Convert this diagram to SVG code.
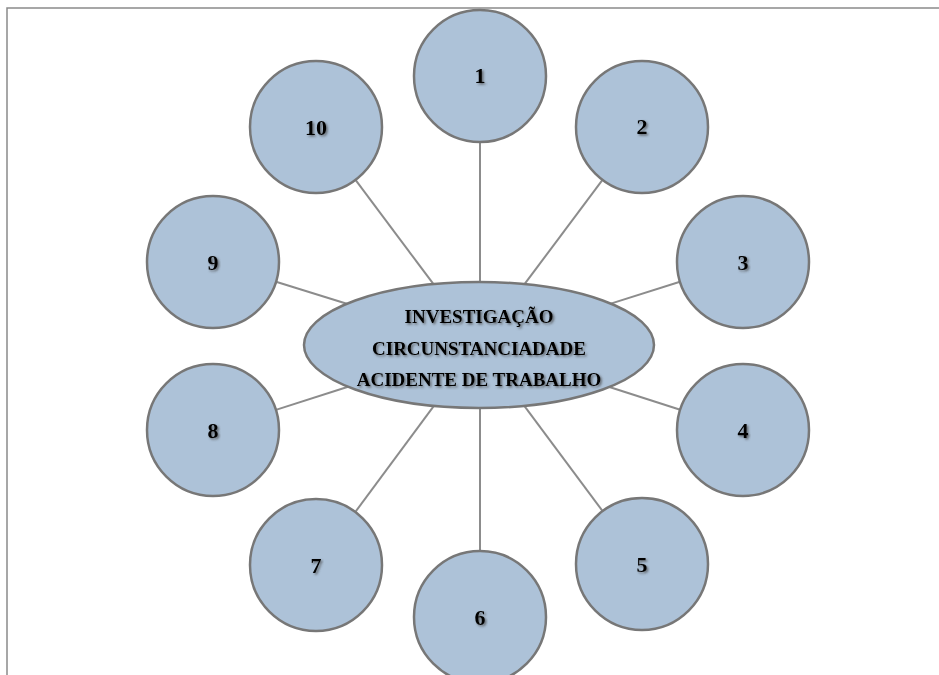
<svg xmlns="http://www.w3.org/2000/svg" width="939" height="675" viewBox="0 0 939 675">
  <defs>
    <filter id="txtShadow" x="-20%" y="-20%" width="140%" height="140%">
      <feDropShadow dx="1.5" dy="1.5" stdDeviation="0.9" flood-color="#444" flood-opacity="0.75"/>
    </filter>
  </defs>
  <style>
    .frame { stroke: #8a8a8a; stroke-width: 1.5; fill: none; }
    .link { stroke: #8c8c8c; stroke-width: 2; fill: none; }
    .bubble { fill: #adc2d8; stroke: #777777; stroke-width: 2.5; }
    .label { font-family: "Liberation Serif", "Times New Roman", serif; font-weight: bold; fill: #000; text-anchor: middle; filter: url(#txtShadow); }
    .num { font-size: 22px; }
    .hub { font-size: 19px; }
  </style>

  <rect width="939" height="675" fill="#ffffff"/>
  <!-- page frame -->
  <path class="frame" d="M7 675 V8 H939"/>

  <!-- spokes -->
  <g id="connectors">
    <line class="link" x1="480" y1="142" x2="480" y2="282"/>
    <line class="link" x1="602.5" y1="179.9" x2="524.5" y2="284.2"/>
    <line class="link" x1="680" y1="281.8" x2="610.8" y2="303.6"/>
    <line class="link" x1="680.2" y1="409.8" x2="609.4" y2="387"/>
    <line class="link" x1="602.6" y1="511.1" x2="524.3" y2="405.9"/>
    <line class="link" x1="480" y1="551" x2="480" y2="408"/>
    <line class="link" x1="355.3" y1="512" x2="433.9" y2="405.9"/>
    <line class="link" x1="275.9" y1="409.9" x2="348.1" y2="386.8"/>
    <line class="link" x1="276" y1="281.7" x2="346.8" y2="303.7"/>
    <line class="link" x1="355.5" y1="179.9" x2="433.5" y2="284.2"/>
  </g>

  <!-- hub -->
  <g id="hub">
    <ellipse class="bubble" cx="479" cy="345" rx="175" ry="63"/>
    <text class="label hub" x="479" y="323">INVESTIGAÇÃO</text>
    <text class="label hub" x="479" y="355">CIRCUNSTANCIADADE</text>
    <text class="label hub" x="479" y="386">ACIDENTE DE TRABALHO</text>
  </g>

  <!-- satellites -->
  <g id="node1"><circle class="bubble" cx="480" cy="76" r="66"/><text class="label num" x="480" y="83">1</text></g>
  <g id="node2"><circle class="bubble" cx="642" cy="127" r="66"/><text class="label num" x="642" y="134">2</text></g>
  <g id="node3"><circle class="bubble" cx="743" cy="262" r="66"/><text class="label num" x="743" y="270">3</text></g>
  <g id="node4"><circle class="bubble" cx="743" cy="430" r="66"/><text class="label num" x="743" y="438">4</text></g>
  <g id="node5"><circle class="bubble" cx="642" cy="564" r="66"/><text class="label num" x="642" y="572">5</text></g>
  <g id="node6"><circle class="bubble" cx="480" cy="617" r="66"/><text class="label num" x="480" y="625">6</text></g>
  <g id="node7"><circle class="bubble" cx="316" cy="565" r="66"/><text class="label num" x="316" y="573">7</text></g>
  <g id="node8"><circle class="bubble" cx="213" cy="430" r="66"/><text class="label num" x="213" y="438">8</text></g>
  <g id="node9"><circle class="bubble" cx="213" cy="262" r="66"/><text class="label num" x="213" y="270">9</text></g>
  <g id="node10"><circle class="bubble" cx="316" cy="127" r="66"/><text class="label num" x="316" y="135">10</text></g>
</svg>
